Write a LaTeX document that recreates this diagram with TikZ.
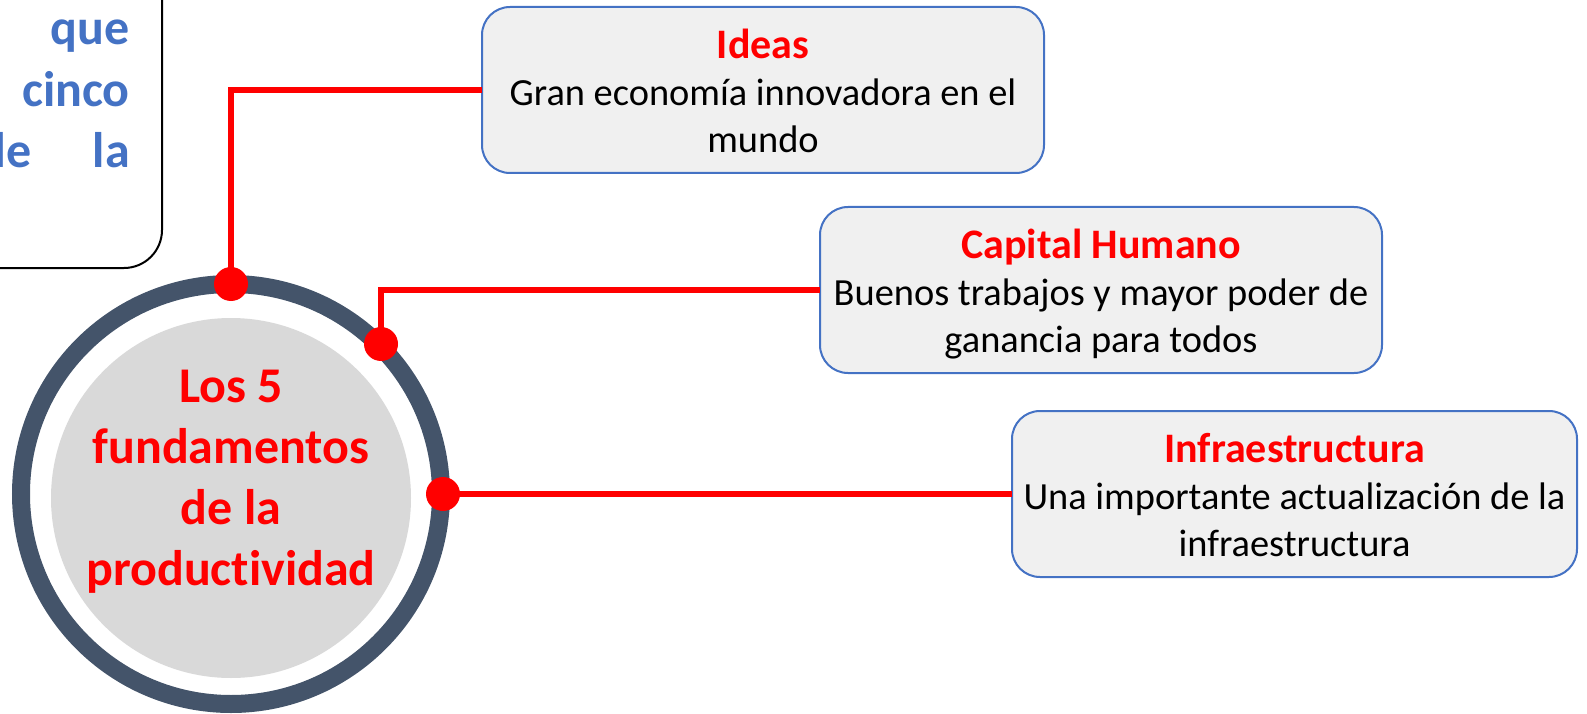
\documentclass[tikz,border=0pt]{standalone}
\usepackage{fontspec}
\setmainfont{Carlito}[Ligatures=NoCommon]
\definecolor{boxblue}{HTML}{4472C4}
\definecolor{boxfill}{HTML}{F0F0F0}
\definecolor{ringcol}{HTML}{44546A}
\definecolor{disccol}{HTML}{D9D9D9}
\definecolor{myred}{HTML}{FF0000}
\begin{document}
\begin{tikzpicture}[x=1pt,y=-1pt,
  fbox/.style={draw=boxblue, line width=2pt, fill=boxfill, rounded corners=28pt,
    minimum width=562pt, minimum height=166pt, anchor=north west, outer sep=0pt, inner sep=0pt},
  ttl/.style={font=\fontsize{42}{50}\selectfont\bfseries, text=myred, inner sep=0pt, anchor=base},
  body/.style={font=\fontsize{38.4}{46}\selectfont, text=black, inner sep=0pt, anchor=base},
  intro/.style={font=\fontsize{50}{61}\selectfont\bfseries, text=boxblue, inner sep=0pt},
  conn/.style={draw=myred, line width=6pt},
  dot/.style={circle, fill=myred, minimum size=34pt, inner sep=0pt}]
\useasboundingbox (0,0) rectangle (1587,714);
\clip (0,0) rectangle (1587,714);
% intro box (cut by the page edge)
\node[draw=black, line width=2pt, rounded corners=38pt, minimum width=320pt, minimum height=340pt,
  anchor=south east, outer sep=0pt] (introbox) at (162,268) {};
\node[intro, anchor=base east] (w1) at (130,45) {que};
\node[intro, anchor=base east] (w2) at (130,107) {cinco};
\node[intro, anchor=base east] (w3) at (32,168) {de};
\node[intro, anchor=base east] (w4) at (130,168) {la};
% circle
\node[circle, draw=ringcol, line width=18pt, minimum size=420pt, inner sep=0pt] (ring) at (231,494) {};
\node[circle, fill=disccol, minimum size=360pt, inner sep=0pt] (disc) at (231,498) {};
\node[align=center, font=\fontsize{50}{61}\selectfont\bfseries, text=myred, inner sep=0pt] (title) at (231,482)
  {Los 5\\fundamentos\\de la\\productividad};
% boxes
\node[fbox] (ideas) at (482,7) {};
\node[ttl] (ideasT) at (763,58.5) {Ideas};
\node[body] (ideasB1) at (763,105.5) {Gran economía innovadora en el};
\node[body] (ideasB2) at (763,152.5) {mundo};
\node[fbox] (capital) at (820,207) {};
\node[ttl] (capitalT) at (1101,258.5) {Capital Humano};
\node[body] (capitalB1) at (1101,305.5) {Buenos trabajos y mayor poder de};
\node[body] (capitalB2) at (1101,352.5) {ganancia para todos};
\node[fbox, minimum width=565pt] (infra) at (1012,411) {};
\node[ttl] (infraT) at (1294.5,462.5) {Infraestructura};
\node[body] (infraB1) at (1294.5,509.5) {Una importante actualización de la};
\node[body] (infraB2) at (1294.5,556.5) {infraestructura};
% connectors
\coordinate (p1) at (231,284);
\coordinate (p2) at (381,344);
\coordinate (p3) at (443,494);
\draw[conn] (p1) |- (ideas.west);
\draw[conn] (p2) |- (capital.west);
\draw[conn] (p3) -- (infra.west);
\node[dot] (d1) at (p1) {};
\node[dot] (d2) at (p2) {};
\node[dot] (d3) at (p3) {};
\end{tikzpicture}
\end{document}
